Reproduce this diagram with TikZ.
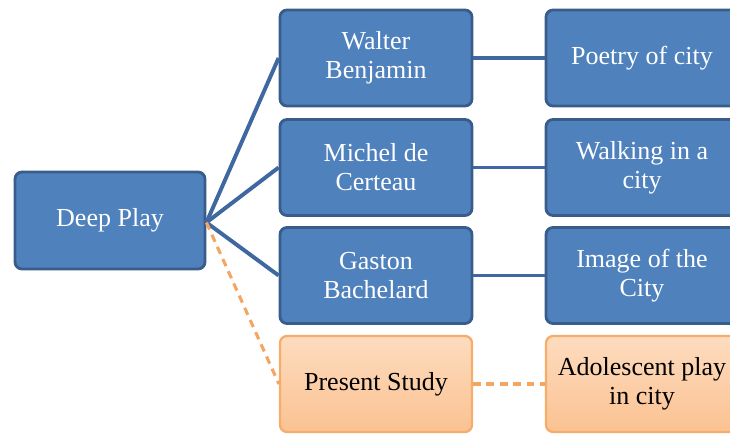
\documentclass[tikz,border=0pt]{standalone}
\usepackage{fontspec}
\setmainfont{Liberation Serif}
\usetikzlibrary{arrows.meta,positioning,calc}
\definecolor{boxblue}{HTML}{4F81BD}
\definecolor{edgeblue}{HTML}{385D8A}
\definecolor{lineblue}{HTML}{3F68A0}
\definecolor{peachtop}{HTML}{FDDCBF}
\definecolor{peachbot}{HTML}{FBC292}
\definecolor{peachedge}{HTML}{F6AC6A}
\definecolor{dashorange}{HTML}{F5A562}
\tikzset{
  boxtext/.style={font=\fontsize{18.5}{20.5}\selectfont,align=center},
  bluebox/.style={boxtext,rounded corners=5pt,draw=edgeblue,fill=boxblue,line width=2pt,text=white,minimum width=4.8cm,minimum height=2.4cm},
  peachbox/.style={boxtext,rounded corners=5pt,draw=peachedge,top color=peachtop,bottom color=peachbot,line width=1.6pt,text=black,minimum width=4.8cm,minimum height=2.4cm},
  link/.style={draw=lineblue,line width=2.8pt},
  dashlink/.style={draw=dashorange,line width=2.2pt,dash pattern=on 5.5pt off 4pt}
}
\begin{document}
\begin{tikzpicture}[x=1cm,y=1cm]
\useasboundingbox (0,0) rectangle (18.25,10.95);
\node[bluebox,minimum width=4.75cm,minimum height=2.425cm] (dp) at (2.75,5.4375) {Deep Play};

\node[bluebox] (wb) at (9.4,9.5) {Walter\\Benjamin};
\node[bluebox] (mc) at (9.4,6.7625) {Michel de\\Certeau};
\node[bluebox] (gb) at (9.4,4.0625) {Gaston\\Bachelard};
\node[peachbox] (ps) at (9.4,1.35) {Present Study};

\node[bluebox] (pc) at (16.05,9.5) {Poetry of city};
\node[bluebox] (wc) at (16.05,6.7625) {Walking in a\\city};
\node[bluebox] (ic) at (16.05,4.0625) {Image of the\\City};
\node[peachbox] (ap) at (16.05,1.35) {Adolescent play\\in city};

\coordinate (hub) at ($(dp.east)+(0,-0.05)$);
\draw[link] (hub)--(wb.west); \draw[link] (hub)--(mc.west); \draw[link] (hub)--(gb.west);
\draw[dashlink] (hub)--(ps.west);
\draw[link] (wb)--(pc); \draw[link] (mc)--(wc); \draw[link] (gb)--(ic);
\draw[dashlink] (ps)--(ap);
\end{tikzpicture}
\end{document}
